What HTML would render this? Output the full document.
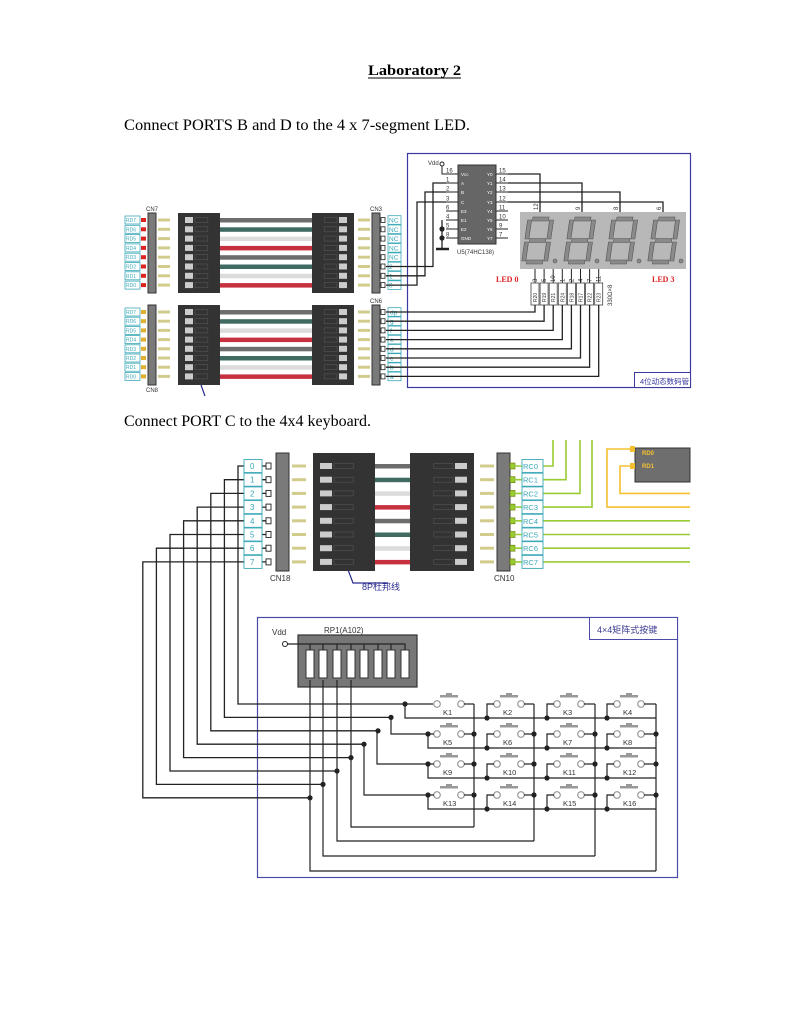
<!DOCTYPE html>
<html><head><meta charset="utf-8"><style>
html,body{margin:0;padding:0;background:#fff;}
svg{display:block;}
.t{font-family:"Liberation Serif",serif;}
.s{font-family:"Liberation Sans","Noto Sans CJK SC",sans-serif;}
</style></head><body>
<svg id="S" width="809" height="1024" viewBox="0 0 809 1024" xmlns="http://www.w3.org/2000/svg">
<rect width="809" height="1024" fill="#fff"/>
<text class="t" x="368" y="75" font-size="15" font-weight="bold" textLength="93" lengthAdjust="spacingAndGlyphs">Laboratory 2</text>
<line x1="368" y1="78" x2="461" y2="78" stroke="#000" stroke-width="1"/>
<text class="t" x="124" y="130" font-size="15.5" textLength="346" lengthAdjust="spacingAndGlyphs">Connect PORTS B and D to the 4 x 7-segment LED.</text>
<text class="t" x="124" y="426" font-size="15.5" textLength="247" lengthAdjust="spacingAndGlyphs">Connect PORT C to the 4x4 keyboard.</text>

<rect x="407.5" y="153.5" width="283" height="234" fill="none" stroke="#3a3aa0" stroke-width="1.2"/>
<rect x="634.5" y="372.5" width="56" height="15" fill="#fff" stroke="#3a3aa0" stroke-width="1"/>
<text class="s" x="640" y="384" font-size="7.5" fill="#3a3aa0">4位动态数码管</text>
<text class="s" x="146" y="211" font-size="6" fill="#333">CN7</text>
<text class="s" x="146" y="392" font-size="6" fill="#333">CN8</text>
<text class="s" x="370" y="211" font-size="6" fill="#333">CN3</text>
<text class="s" x="370" y="303" font-size="6" fill="#333">CN6</text>

<rect x="458" y="165" width="38" height="79" fill="#666" stroke="#333"/>
<text class="s" x="457" y="254" font-size="6" fill="#333">U5(74HC138)</text>
<text class="s" x="428" y="165" font-size="6" fill="#333">Vdd</text>
<text x="496" y="282" font-size="8" font-weight="bold" fill="#d22" font-family="Liberation Serif">LED 0</text>
<text x="652" y="282" font-size="8" font-weight="bold" fill="#d22" font-family="Liberation Serif">LED 3</text>
<text class="s" x="0" y="0" font-size="6" fill="#333" transform="translate(612,306) rotate(-90)">330Ω×8</text>

<rect x="520" y="212" width="166" height="57" fill="#b8b8b8"/>

<text class="s" x="270" y="581" font-size="8" fill="#333">CN18</text>
<text class="s" x="494" y="581" font-size="8" fill="#333">CN10</text>
<text class="s" x="362" y="590" font-size="9" fill="#2a2a90">8P杜邦线</text>
<polyline points="338,543 353,583 388,583" fill="none" stroke="#2a2a90" stroke-width="1.2"/>
<line x1="201" y1="385" x2="205" y2="396" stroke="#2a2a90" stroke-width="1.2"/>
<rect x="635" y="448" width="55" height="34" fill="#6e6e6e" stroke="#333"/>
<text class="s" x="642" y="455" font-size="6" font-weight="bold" fill="#f5c030">RD0</text>
<text class="s" x="642" y="468" font-size="6" font-weight="bold" fill="#f5c030">RD1</text>

<rect x="257.5" y="617.5" width="420" height="260" fill="none" stroke="#4a4aa8" stroke-width="1.2"/>
<rect x="589.5" y="617.5" width="88" height="22" fill="#fff" stroke="#4a4aa8" stroke-width="1"/>
<text class="s" x="597" y="633" font-size="9" fill="#3a3a90">4×4矩阵式按键</text>
<text class="s" x="272" y="635" font-size="8" fill="#333">Vdd</text>
<text class="s" x="324" y="633" font-size="8" fill="#333">RP1(A102)</text>
<g id="G"></g>
</svg>
<script>
var G=document.getElementById('G'),NS='http://www.w3.org/2000/svg';
function el(n,a,txt){var e=document.createElementNS(NS,n);for(var k in a)e.setAttribute(k,a[k]);if(txt!==undefined)e.textContent=txt;G.appendChild(e);return e;}
function R(x,y,w,h,f,s,sw){return el('rect',{x:x,y:y,width:w,height:h,fill:f||'none',stroke:s||'none','stroke-width':sw||1});}
function L(p,c,w){return el('polyline',{points:p,fill:'none',stroke:c||'#222','stroke-width':w||1.3});}
function T(x,y,s,fs,c,tr){var a={x:x,y:y,'font-size':fs,fill:c||'#333','font-family':'Liberation Sans, sans-serif'};if(tr)a.transform=tr;return el('text',a,s);}
function D(x,y){el('circle',{cx:x,cy:y,r:2.6,fill:'#222'});}
var cab=['#6d6d6d','#3f6b63','#dcdcdc','#c7313f'];
function cableGroup(rows,y0,y1,x){
  R(x.blkL,y0,x.blkL2-x.blkL,y1-y0,'#333');
  R(x.blkR,y0,x.blkR2-x.blkR,y1-y0,'#333');
  rows.forEach(function(y,i){
    R(x.blkL2,y-2,x.blkR-x.blkL2,4.5,cab[i%4]);
    R(x.pinL,y-1.5,x.pinLw,3,'#d2cc8c');
    R(x.pinR,y-1.5,x.pinLw,3,'#d2cc8c');
    R(x.blkL+7,y-3,x.sq,6,'#ccc');
    R(x.blkL+7+x.sq+2,y-2.5,x.sq*1.6,5,'none','#555',0.6);
    R(x.blkR2-7-x.sq,y-3,x.sq,6,'#ccc');
    R(x.blkR2-9-x.sq*2.6,y-2.5,x.sq*1.6,5,'none','#555',0.6);
  });
  R(x.barL,y0,x.barw,y1-y0,'#7a7a7a','#333',1);
  R(x.barR,y0,x.barw,y1-y0,'#7a7a7a','#333',1);
}
var A=[],B=[];for(var i=0;i<8;i++){A.push(220+i*9.3);B.push(312+i*9.2);}
var tx={blkL:178,blkL2:220,blkR:312,blkR2:354,pinL:158,pinR:358,pinLw:12,barL:148,barR:372,barw:8,sq:8};
cableGroup(A,213,293,tx);cableGroup(B,305,385,tx);
var ra=['RD7','RD6','RD5','RD4','RD3','RD2','RD1','RD0'];
var la=['NC','NC','NC','NC','NC','2','1','0'],lb=['dp','g','f','e','d','c','b','a'];
A.forEach(function(y,i){R(125,y-4,15,8,'#fff','#3aa8b8',0.8);T(126,y+2,ra[i],5,'#3aa8b8');R(141,y-2,5,4,'#d22');
  R(381,y-2.5,4,5,'#fff','#222',0.8);R(388,y-4.3,13,8.6,'#fff','#3aa8b8',0.8);T(389,y+2.5,la[i],6.5,'#3aa8b8');});
B.forEach(function(y,i){R(125,y-4,15,8,'#fff','#3aa8b8',0.8);T(126,y+2,ra[i],5,'#3aa8b8');R(141,y-2,5,4,'#e0b030');
  R(381,y-2.5,4,5,'#fff','#222',0.8);R(388,y-4.3,13,8.6,'#fff','#3aa8b8',0.8);T(390,y+2.5,lb[i],6.5,'#3aa8b8');});
var py=[174,183,192,202,211,220,229,238],pn=['16','1','2','3','6','4','5','8'],pl=['Vcc','A','B','C','E3','E1','E2','GND'];
py.forEach(function(y,i){L('446,'+y+' 458,'+y,'#222',1);T(446,y-1.5,pn[i],6);T(461,y+2,pl[i],4.5,'#fff');});
var ry=[174,183,192,202,211,220,229,238],rn=['15','14','13','12','11','10','9','7'];
ry.forEach(function(y,i){L('496,'+y+' 508,'+y,'#222',1);T(499,y-1.5,rn[i],6);T(487,y+2,'Y'+i,4.5,'#fff');});
L('446,174 442,174 442,166','#222',1);el('circle',{cx:442,cy:164,r:2,fill:'#fff',stroke:'#222'});
L('386,'+A[5]+' 433,'+A[5]+' 433,183 446,183');
L('386,'+A[6]+' 425,'+A[6]+' 425,192 446,192');
L('386,'+A[7]+' 417,'+A[7]+' 417,202 446,202');
L('442,220 442,248');D(442,229);D(442,238);L('436,249 449,249','#222',2.5);
var dx=[540,582,620,663],dn=['12','9','8','6'];
[174,183,192,202].forEach(function(y,i){L('508,'+y+' '+dx[i]+','+y+' '+dx[i]+',212');T(0,0,dn[i],6,'#333','translate('+(dx[i]-2)+',210) rotate(-90)');});
for(var d=0;d<4;d++){var ox=522+d*42,oy=217;
  var g=document.createElementNS(NS,'g');g.setAttribute('transform','translate('+ox+','+oy+') skewX(-8)');G.appendChild(g);
  var segs=[[6,0,16,4],[23,3,4,19],[23,25,4,19],[6,43,16,4],[1,25,4,19],[1,3,4,19],[6,21.5,16,4]];
  segs.forEach(function(s){var r=document.createElementNS(NS,'rect');r.setAttribute('x',s[0]+5);r.setAttribute('y',s[1]);r.setAttribute('width',s[2]);r.setAttribute('height',s[3]);r.setAttribute('fill','#8a8a8a');r.setAttribute('stroke','#555');r.setAttribute('stroke-width','0.6');g.appendChild(r);});
  el('circle',{cx:ox+33,cy:oy+44,r:2,fill:'#8a8a8a',stroke:'#555','stroke-width':0.6});
}
var rpn=['3','5','10','1','2','4','7','11'],rrn=['R20','R19','R21','R24','R18','R17','R22','R23'];
for(var i=0;i<8;i++){var x=535+i*9.1;L(x+','+269+' '+x+','+283,'#222',1);T(0,0,rpn[i],6,'#333','translate('+(x+2)+',282) rotate(-90)');
  R(x-4,283,8,22,'#fff','#444',0.8);T(0,0,rrn[i],5,'#333','translate('+(x+2)+',302) rotate(-90)');
  L(x+',305 '+x+','+B[i]+' 386,'+B[i]);}

var C=[];for(var i=0;i<8;i++)C.push(466+i*13.7);
var bx={blkL:313,blkL2:375,blkR:410,blkR2:474,pinL:292,pinR:480,pinLw:14,barL:276,barR:497,barw:13,sq:12};
cableGroup(C,453,571,bx);
var rc=['RC0','RC1','RC2','RC3','RC4','RC5','RC6','RC7'];
C.forEach(function(y,i){
  var xt=238-13.6*i,yk=704+13.4*i;
  L('270,'+y+' '+xt+','+y+' '+xt+','+yk+' '+(405-13.6*i)+','+yk);
  R(244,y-6.5,18,13,'#fff','#3aa8b8',0.9);T(250,y+3,String(i),8,'#3aa8b8');
  R(266,y-3,5,6,'#fff','#222',0.9);
  R(510,y-3,5,6,'#9c3','#670',0.6);
  var end=(i<4)?[553,566,580,592][i]:690;
  L('513,'+y+' '+end+','+y+(i<4?' '+end+',440':''),'#9c3',1.6);
  R(522,y-6.5,21,13,'#fff','#3aa8b8',0.9);T(523,y+3,rc[i],7.5,'#3aa8b8');
});
L('632,449 607,449 607,'+C[3]+' 690,'+C[3],'#f5c030',1.6);
L('632,466 620,466 620,'+C[2]+' 690,'+C[2],'#f5c030',1.6);
R(630,446,5,6,'#f5c030');R(630,463,5,6,'#f5c030');
R(298,635,119,52,'#777','#333',1.2);
L('287,644 405,644 405,650','#222',1.2);el('circle',{cx:285,cy:644,r:2.5,fill:'#fff',stroke:'#222'});
var rpx=[310,323,337,351,364,378,391,405];
rpx.forEach(function(x,i){if(i<7)L(x+',644 '+x+',650','#222',1.2);R(x-4,650,8,28,'#fff','#333',1);
  var yk=704+13.4*(7-i);D(x,yk);});
var ky=[704,734,764,795],kx=[449,509,569,629],colR=[474,534,595,656];
var colYb=[827,841,856,871];
ky.forEach(function(y,r){
  kx.forEach(function(cx,c){
    el('circle',{cx:cx-12,cy:y,r:3.3,fill:'#fff',stroke:'#999','stroke-width':1.2});
    el('circle',{cx:cx+12,cy:y,r:3.3,fill:'#fff',stroke:'#999','stroke-width':1.2});
    R(cx-9,y-9,18,2.5,'#999');R(cx-3,y-11,6,2,'#999');
    T(cx-6,y+11,'K'+(r*4+c+1),7.5,'#333');
    L((cx+15)+','+y+' '+colR[c]+','+y,'#222',1.2);
    if(c>0){L((cx-15)+','+y+' '+(cx-22)+','+y+' '+(cx-22)+','+(y+14),'#222',1.2);D(cx-22,y+14);}
    if(r>0)D(colR[c],y);
  });
  if(r>0){L((kx[0]-15)+','+y+' '+(kx[0]-21)+','+y,'#222',1.2);D(kx[0]-21,y);L((kx[0]-21)+','+y+' '+(kx[0]-21)+','+(y+14)+' '+colR[3]+','+(y+14),'#222',1.2);}
});
L('405,704 433,704','#222',1.2);
L('405,704 405,718 '+colR[3]+',718','#222',1.2);
L('391,718 391,734 427,734','#222',1.2);
L('377,731 377,764 427,764','#222',1.2);
L('364,744 364,795 427,795','#222',1.2);
colR.forEach(function(x,c){L(x+',704 '+x+','+colYb[c],'#222',1.2);
  var px=rpx[3-c];L(px+',680 '+px+','+colYb[c]+' '+x+','+colYb[c],'#222',1.2);});
</script>
</body></html>
